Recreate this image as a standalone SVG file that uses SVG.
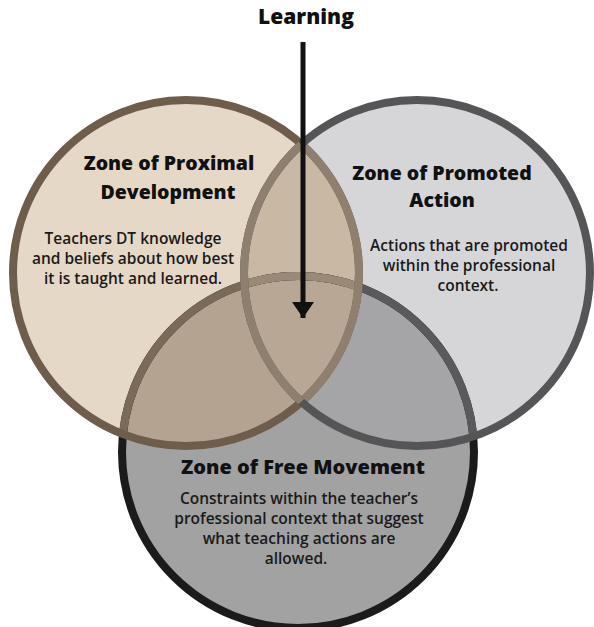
<svg xmlns="http://www.w3.org/2000/svg" width="594" height="627" viewBox="0 0 594 627">
<style>
.title{font-family:"Open Sans","Liberation Sans",sans-serif;font-weight:800;font-size:19.5px;fill:#111;text-anchor:middle}
.body{font-family:"Open Sans","Liberation Sans",sans-serif;font-weight:600;font-size:15.5px;fill:#1a1a1a;text-anchor:middle}
.stk{fill:none;stroke-width:8}
</style>
<defs>
<clipPath id="cL"><circle cx="186" cy="273" r="173"/></clipPath>
<clipPath id="cR"><circle cx="417" cy="273" r="173"/></clipPath>
<clipPath id="cB"><circle cx="298" cy="452" r="176"/></clipPath>
<marker id="ah" viewBox="0 0 16 22" refX="16" refY="11" markerWidth="16" markerHeight="22" markerUnits="userSpaceOnUse" orient="auto">
<path d="M0,0 L16,11 L0,22 Z" fill="#111"/>
</marker>
</defs>
<rect width="594" height="627" fill="#fff"/>
<g id="fills">
<circle cx="298" cy="452" r="176" fill="#a2a2a2"/>
<circle cx="186" cy="273" r="173" fill="#e6d8c6"/>
<circle cx="417" cy="273" r="173" fill="#d6d6d8"/>
<circle cx="417" cy="273" r="173" fill="#c9b8a4" clip-path="url(#cL)"/>
<circle cx="298" cy="452" r="176" fill="#b4a391" clip-path="url(#cL)"/>
<circle cx="298" cy="452" r="176" fill="#a5a5a7" clip-path="url(#cR)"/>
<g clip-path="url(#cL)"><circle cx="298" cy="452" r="176" fill="#b8a795" clip-path="url(#cR)"/></g>
</g>
<g id="zone-free-movement">
<circle class="stk" cx="298" cy="452" r="176" stroke="#1b1b1b"/>
<circle class="stk" cx="298" cy="452" r="176" stroke="#7b6a57" clip-path="url(#cL)"/>
<circle class="stk" cx="298" cy="452" r="176" stroke="#5a5a5c" clip-path="url(#cR)"/>
<g clip-path="url(#cL)"><circle class="stk" cx="298" cy="452" r="176" stroke="#9a8976" clip-path="url(#cR)"/></g>
<text class="title" x="303" y="474" style="font-size:20px">Zone of Free Movement</text>
<text class="body" x="299" y="504">Constraints within the teacher’s</text>
<text class="body" x="299" y="524">professional context that suggest</text>
<text class="body" x="299" y="544">what teaching actions are</text>
<text class="body" x="296" y="564">allowed.</text>
</g>
<g id="zone-proximal-development">
<circle class="stk" cx="186" cy="273" r="173" stroke="#6e5d4b"/>
<circle class="stk" cx="186" cy="273" r="173" stroke="#8f7f6e" clip-path="url(#cR)"/>
<text class="title" x="169" y="170">Zone of Proximal</text>
<text class="title" x="168" y="199">Development</text>
<text class="body" x="133" y="244">Teachers DT knowledge</text>
<text class="body" x="133" y="264">and beliefs about how best</text>
<text class="body" x="133" y="284">it is taught and learned.</text>
</g>
<g id="zone-promoted-action">
<circle class="stk" cx="417" cy="273" r="173" stroke="#555557"/>
<circle class="stk" cx="417" cy="273" r="173" stroke="#8f7f6f" clip-path="url(#cL)"/>
<text class="title" x="442" y="180">Zone of Promoted</text>
<text class="title" x="442" y="207">Action</text>
<text class="body" x="469" y="251">Actions that are promoted</text>
<text class="body" x="469" y="271">within the professional</text>
<text class="body" x="468" y="291">context.</text>
</g>
<g id="learning">
<text class="title" x="306" y="24" style="font-size:21px">Learning</text>
</g>
<g id="connectors">
<line x1="303" y1="42" x2="303" y2="318" stroke="#111" stroke-width="5" marker-end="url(#ah)"/>
</g>
</svg>
